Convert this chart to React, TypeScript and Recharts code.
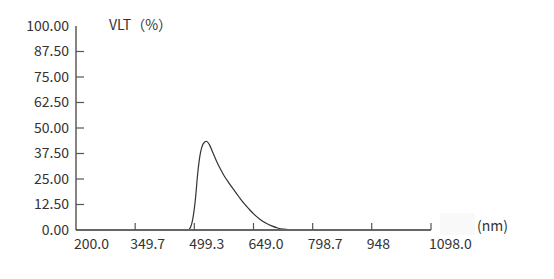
import React from "react";
import { LineChart, Line, XAxis, YAxis } from "recharts";

const wavelengths = [485, 490, 495, 499, 503, 507, 511, 515, 520, 525, 530, 537, 545, 555, 565, 575, 587, 600, 612, 625, 638, 650, 665, 680, 695, 710, 725, 740, 755, 765];
const vltValues = [0, 1.5, 5, 10, 17, 26, 33, 38, 41.5, 43, 43.5, 42, 38.5, 34, 30, 26.5, 23, 19.5, 16.3, 13, 10.2, 7.8, 5.3, 3.4, 2, 1, 0.4, 0.1, 0, 0];

const xTicks = [200, 349.7, 499.3, 649.0, 798.7, 948, 1098.0];
const xTickLabels = ["200.0", "349.7", "499.3", "649.0", "798.7", "948", "1098.0"];
const yTicks = [0, 12.5, 25, 37.5, 50, 62.5, 75, 87.5, 100];
const yTickLabels = ["0.00", "12.50", "25.00", "37.50", "50.00", "62.50", "75.00", "87.50", "100.00"];

const data = wavelengths.map((nm, i) => ({ nm, vlt: vltValues[i] }));

const FONT = "'Noto Sans CJK SC', 'Noto Sans', sans-serif";
const TEXT = "#333";
const FS = 14;

const XTick = (props: any) => {
  const { x, y, payload, index } = props;
  const i = xTicks.indexOf(payload.value);
  const last = i === xTicks.length - 1;
  const off = i === 0 || last ? -2 : -5;
  return (
    <g>
      {i !== 0 && <line x1={x} x2={x} y1={y} y2={y - 7} stroke="#555" strokeWidth={1.2} />}
      <text x={x + off} y={y + 19} textAnchor="start" fontSize={FS} fill={TEXT} fontFamily={FONT}>
        {xTickLabels[i >= 0 ? i : index]}
      </text>
    </g>
  );
};

const YTick = (props: any) => {
  const { x, y, payload, index } = props;
  const i = yTicks.indexOf(payload.value);
  const showTick = i > 0 && i < yTicks.length - 1;
  return (
    <g>
      {showTick && <line x1={x} x2={x + 8} y1={y} y2={y} stroke="#555" strokeWidth={1.2} />}
      <text x={x - 7} y={y + 4.5} textAnchor="end" fontSize={FS} fill={TEXT} fontFamily={FONT}>
        {yTickLabels[i >= 0 ? i : index]}
      </text>
    </g>
  );
};

export default function App() {
  return (
    <div style={{ position: "absolute", left: 0, top: 0, width: 554, height: 279, background: "#fff" }}>
      <div style={{ position: "absolute", left: 440, top: 213, width: 35, height: 22, background: "#f9f9f9" }} />
      <div style={{ position: "absolute", left: 0, top: 0 }}>
        <LineChart width={554} height={279} data={data} margin={{ top: 26, right: 123, bottom: 0, left: 0 }}>
          <XAxis
            dataKey="nm"
            type="number"
            domain={[200, 1098]}
            ticks={xTicks}
            interval={0}
            tick={<XTick />}
            tickLine={false}
            tickSize={0}
            tickMargin={0}
            height={49}
            axisLine={{ stroke: "#666", strokeWidth: 2 }}
          />
          <YAxis
            type="number"
            domain={[0, 100]}
            ticks={yTicks}
            interval={0}
            tick={<YTick />}
            tickLine={false}
            tickSize={0}
            tickMargin={0}
            width={76}
            axisLine={{ stroke: "#333", strokeWidth: 1.2 }}
          />
          <Line
            type="monotone"
            dataKey="vlt"
            stroke="#333"
            strokeWidth={1.2}
            dot={false}
            isAnimationActive={false}
          />
        </LineChart>
      </div>
      <div style={{ position: "absolute", left: 109, top: 14, fontSize: FS, fontFamily: FONT, color: TEXT, whiteSpace: "nowrap", lineHeight: "20px" }}>
        VLT（%）
      </div>
      <div style={{ position: "absolute", left: 477, top: 215, fontSize: FS, fontFamily: FONT, color: TEXT, whiteSpace: "nowrap", lineHeight: "20px" }}>
        (nm)
      </div>
    </div>
  );
}
